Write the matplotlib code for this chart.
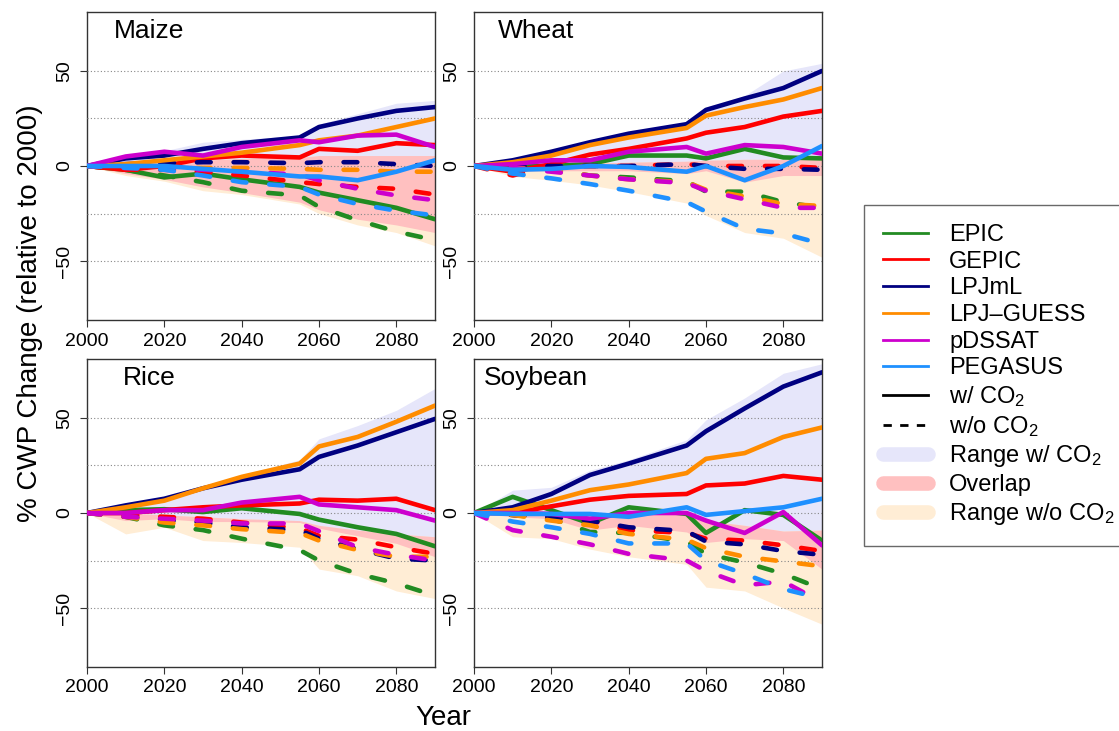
import numpy as np
import matplotlib
matplotlib.use("Agg")
import matplotlib.pyplot as plt
from matplotlib.lines import Line2D

plt.rcParams['font.family'] = ['Liberation Sans', 'DejaVu Sans']
plt.rcParams['mathtext.fontset'] = 'custom'
plt.rcParams['mathtext.rm'] = 'Liberation Sans'
plt.rcParams['mathtext.it'] = 'Liberation Sans:italic'

years = [2000, 2010, 2020, 2030, 2040, 2055, 2060, 2070, 2080, 2090]
models = ['EPIC', 'GEPIC', 'LPJmL', 'LPJ\u2013GUESS', 'pDSSAT', 'PEGASUS']
model_colors = ['#228B22', '#FF0000', '#000080', '#FF8C00', '#CD00CD', '#1E90FF']
crops = ['Maize', 'Wheat', 'Rice', 'Soybean']

# ---- Maize ----
maize_w = {
    'EPIC': [0, -2, -6, -4, -7, -11, -14, -18, -22, -28],
    'GEPIC': [0, -2, 0, 4, 5.5, 4.5, 9, 8, 12, 11],
    'LPJmL': [0, 4, 5.5, 9, 12, 15, 20.5, 25, 29, 31],
    'LPJ\u2013GUESS': [0, 1, 3, 5, 7, 11, 13.5, 16, 20.5, 25],
    'pDSSAT': [0, 5, 7.5, 5.5, 10, 13.5, 12.5, 16, 16.5, 10],
    'PEGASUS': [0, 0, 0, -1.5, -3, -5.5, -5.5, -7.5, -3, 3],
}
maize_wo = {
    'EPIC': [0, -2, -5, -8.5, -13, -15.5, -21.5, -28.5, -34.5, -39],
    'GEPIC': [0, -2, -2, -3, -5, -8.5, -9.5, -11, -12, -15],
    'LPJmL': [0, 1, 1.5, 2, 2, 1.5, 2, 2, 1, 0],
    'LPJ\u2013GUESS': [0, 0, -1, -1, -1, -1.5, -2, -2, -3, -3],
    'pDSSAT': [0, -1, -1, -2, -3, -4.5, -7.5, -12, -15.5, -18],
    'PEGASUS': [0, -1, -2, -5, -8.5, -11, -15, -20, -23.5, -26],
}
maize_hi_w = [0, 5.5, 8, 12.5, 14, 16, 22, 27.5, 33, 34.5]
maize_lo_w = [0, -4, -7, -11, -14, -19, -23, -28, -31, -35]
maize_hi_wo = [0, 1, 2, 3, 4, 4.5, 5.5, 5.5, 5.5, 5.5]
maize_lo_wo = [0, -5, -8, -13, -15, -20, -25, -31, -35, -42]

# ---- Wheat ----
wheat_w = {
    'EPIC': [0, 0, 0, 1, 5.5, 5.5, 4, 9, 4.5, 4],
    'GEPIC': [0, -3, 1, 6, 9, 14.5, 17.5, 20.5, 26, 29],
    'LPJmL': [0, 3, 7.5, 12.5, 17, 22, 29.5, 35.5, 41, 50],
    'LPJ\u2013GUESS': [0, 2, 5.5, 11, 15, 20, 26.5, 31, 35, 41],
    'pDSSAT': [0, 1, 3, 3, 7.5, 10, 6.5, 11, 10, 6.5],
    'PEGASUS': [0, -2, -1.5, 0, -0.5, -3, 0, -7.5, 0, 10.5],
}
wheat_wo = {
    'EPIC': [0, -1, -2, -5, -6, -8, -13.5, -13.5, -19, -22],
    'GEPIC': [0, -5, 0, 0, 0, 1, 0, 0, 0, -1],
    'LPJmL': [0, 0, 0, 0, 0, 1, 0, -1.5, -1.5, -2],
    'LPJ\u2013GUESS': [0, -1, -2, -5, -7, -8.5, -12.5, -16, -20, -21],
    'pDSSAT': [0, -1, -3, -5, -7, -9, -13, -17.5, -22, -22],
    'PEGASUS': [0, -4, -6.5, -9.5, -13, -19, -24, -33, -35.5, -41],
}
wheat_hi_w = [0, 3.5, 8, 13.5, 18, 23, 31, 37, 50, 54]
wheat_lo_w = [0, -3, -2.5, -2.5, -2.5, -4, -2.5, -8.5, -5, -5]
wheat_hi_wo = [0, 1, 1.5, 1.5, 2, 2.5, 3, 3.5, 3.5, 3.5]
wheat_lo_wo = [0, -5.5, -7.5, -10, -13.5, -19.5, -26, -35, -38, -48]

# ---- Rice (no PEGASUS) ----
rice_w = {
    'EPIC': [0, 1.5, 2, 0.5, 2.5, -0.5, -3.5, -7.5, -11, -17.5],
    'GEPIC': [0, 0, 1.5, 3, 4, 5, 7, 6.5, 7.5, 1.5],
    'LPJmL': [0, 4, 7.5, 13, 17.5, 23, 29.5, 35.5, 42.5, 49.5],
    'LPJ\u2013GUESS': [0, 3, 6.5, 13, 19, 26, 35, 40, 48, 56.5],
    'pDSSAT': [0, 0, 1.5, 1.5, 5.5, 8.5, 4.5, 3, 1.5, -4],
}
rice_wo = {
    'EPIC': [0, -2, -6.5, -9, -13.5, -19.5, -25, -32, -37, -43.5],
    'GEPIC': [0, -1, -2, -3, -5, -8, -12, -14, -18, -21.5],
    'LPJmL': [0, -2, -3.5, -5, -7.5, -9, -13.5, -19, -24, -25],
    'LPJ\u2013GUESS': [0, -2, -5, -6.5, -8.5, -10.5, -14.5, -19.5, -23, -23],
    'pDSSAT': [0, -2, -3, -4, -5.5, -5.5, -9.5, -18, -22, -25],
}
rice_hi_w = [0, 4, 8.5, 14, 20, 28, 39, 46, 54, 65.5]
rice_lo_w = [0, -4, -3, -4.5, -4.5, -5, -8, -12, -16, -23]
rice_hi_wo = [0, 0, -1, -2, -3, -4, -6.5, -9, -11, -12.5]
rice_lo_wo = [0, -11, -7.5, -14.5, -15.5, -18, -29.5, -33, -41, -45]

# ---- Soybean ----
soy_w = {
    'EPIC': [0, 8.5, 1.5, -5.5, 3, -0.5, -10.5, 1.5, -1, -14.5],
    'GEPIC': [0, 0, 3.5, 7, 9, 10, 14.5, 15.5, 19.5, 17.5],
    'LPJmL': [0, 3, 10, 20, 26, 35.5, 43, 55, 66.5, 74],
    'LPJ\u2013GUESS': [0, 1.5, 6.5, 12, 15, 21, 28.5, 31.5, 40, 45],
    'pDSSAT': [0, 0, -0.5, -3, 0, 0, -4, -10.5, 0.5, -17],
    'PEGASUS': [0, -0.5, -0.5, -0.5, -2, 3, -1, 1, 3, 7.5],
}
soy_wo = {
    'EPIC': [0, -1, -3, -10, -10.5, -15, -21.5, -26, -32, -40],
    'GEPIC': [0, -1, -2, -4, -9, -10.5, -13.5, -14.5, -17, -20],
    'LPJmL': [0, -1, -2, -4, -7.5, -9.5, -15, -16.5, -20, -22],
    'LPJ\u2013GUESS': [0, -1, -4, -6.5, -11, -14, -18.5, -23, -25.5, -28],
    'pDSSAT': [0, -9, -12.5, -16.5, -21.5, -25, -30.5, -38, -36, -47],
    'PEGASUS': [0, -4.5, -7.5, -11, -16, -16, -25, -32, -40, -45],
}
soy_hi_w = [0, 12, 13.5, 22.5, 28, 38.5, 49, 60.5, 73.5, 78.5]
soy_lo_w = [0, -2, -3, -9, -6.5, -10, -15.5, -13.5, -14.5, -29.5]
soy_hi_wo = [0, 1.5, 1, 0, 0, -0.5, -4, -6.5, -9.5, -9]
soy_lo_wo = [0, -12.5, -13.5, -19, -23, -27, -39, -41, -50, -58.5]

panel_data = [
    (maize_w, maize_wo, maize_lo_w, maize_hi_w, maize_lo_wo, maize_hi_wo),
    (wheat_w, wheat_wo, wheat_lo_w, wheat_hi_w, wheat_lo_wo, wheat_hi_wo),
    (rice_w, rice_wo, rice_lo_w, rice_hi_w, rice_lo_wo, rice_hi_wo),
    (soy_w, soy_wo, soy_lo_w, soy_hi_w, soy_lo_wo, soy_hi_wo),
]

col_range_w = '#E6E6FA'
col_overlap = '#FFC0C0'
col_range_wo = '#FFEDD5'

W, H = 1119, 731
fig = plt.figure(figsize=(W / 100, H / 100), dpi=100)

# axes boxes in pixels: left, top
lefts = [87, 474, 87, 474]
tops = [12, 12, 359, 359]
ax_w, ax_h = 348, 308

for i, crop in enumerate(crops):
    ax = fig.add_axes([lefts[i] / W, 1 - (tops[i] + ax_h) / H, ax_w / W, ax_h / H])
    w, wo, lo_w, hi_w, lo_wo, hi_wo = panel_data[i]
    x = np.array(years)
    lo_w, hi_w = np.array(lo_w), np.array(hi_w)
    lo_wo, hi_wo = np.array(lo_wo), np.array(hi_wo)

    # ranges and overlap
    ax.fill_between(x, lo_w, hi_w, color=col_range_w, lw=0, zorder=1)
    ax.fill_between(x, lo_wo, hi_wo, color=col_range_wo, lw=0, zorder=1)
    ov_lo = np.maximum(lo_w, lo_wo)
    ov_hi = np.minimum(hi_w, hi_wo)
    ax.fill_between(x, ov_lo, ov_hi, where=ov_hi >= ov_lo, interpolate=True,
                    color=col_overlap, lw=0, zorder=2)

    for y in [-50, -25, 0, 25, 50]:
        ax.axhline(y, color='#888888', ls=(0, (1, 2)), lw=0.8, zorder=3)

    for m, c in zip(models, model_colors):
        if m not in w:
            continue
        ax.plot(x, w[m], color=c, lw=3.3, solid_capstyle='round',
                solid_joinstyle='round', zorder=4)
        ax.plot(x, wo[m], color=c, lw=3.3, dashes=(3, 5),
                dash_capstyle='round', zorder=4)

    ax.set_xlim(2000, 2090)
    ax.set_ylim(-81, 81)
    ax.set_xticks([2000, 2020, 2040, 2060, 2080])
    ax.set_yticks([-50, 0, 50])
    ax.set_yticklabels(['\u221250', '0', '50'], rotation=90, va='center')
    ax.tick_params(labelsize=14, length=5, width=0.8, color='#333333')
    ax.tick_params(axis='y', pad=5)
    ax.tick_params(axis='x', pad=4)
    for s in ax.spines.values():
        s.set_linewidth(1.0)
        s.set_color('#333333')
    ax.text(0.178, 0.914, crop, transform=ax.transAxes, fontsize=19,
            ha='center', va='baseline', zorder=6)

fig.text(30 / W, 1 - 313 / H, '% CWP Change (relative to 2000)', rotation=90,
         fontsize=20, ha='center', va='center')
fig.text(443 / W, 1 - 725 / H, 'Year', fontsize=20, ha='center', va='baseline')

handles = [Line2D([0], [0], color=c, lw=2) for c in model_colors]
handles.append(Line2D([0], [0], color='black', lw=2))
handles.append(Line2D([0], [0], color='black', lw=2, dashes=(3, 3)))
for c in [col_range_w, col_overlap, col_range_wo]:
    handles.append(Line2D([0], [0], color=c, lw=10.5, solid_capstyle='round'))
labels = models + ['w/ CO$_2$', 'w/o CO$_2$', 'Range w/ CO$_2$', 'Overlap',
                   'Range w/o CO$_2$']

leg = fig.legend(handles, labels, loc='upper left',
                 bbox_to_anchor=(864 / W, 1 - 205 / H), borderaxespad=0,
                 fontsize=17, frameon=True, fancybox=False, handlelength=1.9,
                 handletextpad=0.9, labelspacing=0.2, borderpad=0.8)
leg.get_frame().set_edgecolor('#444444')
leg.get_frame().set_linewidth(1.0)

fig.savefig('out.png', dpi=100)
